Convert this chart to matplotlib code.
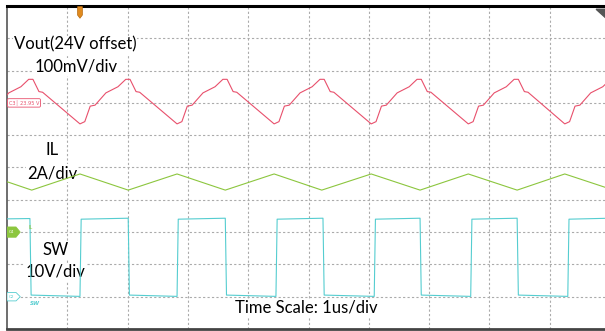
import matplotlib
matplotlib.use("Agg")
import matplotlib.pyplot as plt
from matplotlib.patches import Polygon

plt.rcParams['font.family'] = ['Lato', 'DejaVu Sans']

# 1. Scope settings (1 us/div, 10 x 10 divisions), channel reference levels in div
time_per_div = 1.0
vout_scale = 100.0   # mV/div
il_scale = 2.0       # A/div
sw_scale = 10.0      # V/div
vout_ref = 7.0
il_ref = 3.0
sw_ref = 1.0

# 2. Vout ripple (mV around the 24V offset), vertices
vout_t = [-0.40, -0.32, -0.23, -0.15, 0.03, 0.23, 0.36, 0.43, 0.53, 0.59,
          1.21, 1.29, 1.38, 1.46, 1.64, 1.84, 1.97, 2.04, 2.14, 2.20,
          2.82, 2.90, 2.99, 3.07, 3.25, 3.45, 3.58, 3.65, 3.75, 3.81,
          4.43, 4.51, 4.60, 4.68, 4.86, 5.06, 5.19, 5.26, 5.36, 5.42,
          6.04, 6.12, 6.21, 6.29, 6.47, 6.67, 6.80, 6.87, 6.97, 7.03,
          7.65, 7.73, 7.82, 7.90, 8.08, 8.28, 8.41, 8.48, 8.58, 8.64,
          9.25, 9.33, 9.42, 9.50, 9.68, 9.88, 10.01, 10.08, 10.18, 10.24]
vout_mv = [-65, -58, -10, -7, 31, 50, 73, 73, 35, 33,
           -65, -58, -10, -7, 31, 50, 73, 73, 35, 33,
           -65, -58, -10, -7, 31, 50, 73, 73, 35, 33,
           -65, -58, -10, -7, 31, 50, 73, 73, 35, 33,
           -65, -58, -10, -7, 31, 50, 73, 73, 35, 33,
           -65, -58, -10, -7, 31, 50, 73, 73, 35, 33,
           -65, -58, -10, -7, 31, 50, 73, 73, 35, 33]

# 3. Inductor current (A)
il_t = [0.0, 0.41, 1.21, 2.01, 2.82, 3.62, 4.43, 5.22, 6.04, 6.85, 7.65, 8.46, 9.25, 10.06]
il_a = [3.12, 2.60, 3.60, 2.60, 3.60, 2.60, 3.60, 2.60, 3.60, 2.60, 3.60, 2.60, 3.60, 2.60]

# 4. Switch node (V)
sw_t = [0.0, 0.38, 0.40, 1.21, 1.23, 2.01, 2.03, 2.82, 2.84, 3.62, 3.64, 4.46, 4.48,
        5.24, 5.26, 6.09, 6.11, 6.85, 6.87, 7.69, 7.71, 8.46, 8.48, 9.30, 9.32, 10.0]
sw_v = [24.1, 24.2, 0.5, 0.1, 24.0, 24.3, 0.5, 0.1, 24.0, 24.3, 0.5, 0.1, 24.0,
        24.3, 0.5, 0.1, 24.0, 24.3, 0.5, 0.1, 24.0, 24.3, 0.5, 0.1, 24.0, 24.3]

red = '#e8506c'
green = '#8cc63e'
cyan = '#55cdd0'

# 5. Figure: screen area runs a bit past the right edge of the image
fig = plt.figure(figsize=(6.05, 3.31), dpi=100)
ax = fig.add_axes([7 / 605, 2 / 331, 603 / 605, 323 / 331])
ax.set_xlim(0, 10)
ax.set_ylim(0, 10)
ax.set_xticks([])
ax.set_yticks([])
ax.spines['top'].set_linewidth(2.2)
ax.spines['top'].set_color('black')
ax.spines['left'].set_linewidth(1.2)
ax.spines['left'].set_color('#555555')
ax.spines['bottom'].set_linewidth(2.0)
ax.spines['bottom'].set_color('#444444')
ax.spines['right'].set_visible(False)

for k in range(1, 10):
    ax.axvline(k, color='#ababab', lw=0.8, ls=(0, (2, 2)), zorder=1)
    ax.axhline(k, color='#ababab', lw=0.8, ls=(0, (2, 2)), zorder=1)

# traces
ax.plot([t / time_per_div for t in vout_t], [vout_ref + v / vout_scale for v in vout_mv],
        color=red, lw=0.8, zorder=4)
ax.plot([t / time_per_div for t in il_t], [il_ref + a / il_scale for a in il_a],
        color=green, lw=0.8, zorder=4)
ax.plot([t / time_per_div for t in sw_t], [sw_ref + v / sw_scale for v in sw_v],
        color=cyan, lw=0.8, zorder=4)

# channel markers
ax.text(0.03, vout_ref, "C3\u2502 23.95 V", fontsize=3.6, color=red, va='center', ha='left',
        family='DejaVu Sans',
        bbox=dict(boxstyle='round,pad=0.25', fc='white', ec=red, lw=0.6), zorder=5)
ax.add_patch(Polygon([(0, il_ref + 0.16), (0.15, il_ref + 0.16), (0.22, il_ref),
                      (0.15, il_ref - 0.16), (0, il_ref - 0.16)],
                     closed=True, fc=green, ec=green, lw=0.5, zorder=5))
ax.text(0.08, il_ref, "C4", fontsize=3, color='white', va='center', ha='center',
        family='DejaVu Sans', zorder=6)
ax.text(0.36, il_ref + 0.13, "IL", fontsize=3.5, color=green, va='center', ha='left',
        family='DejaVu Sans', zorder=6)
ax.add_patch(Polygon([(0, sw_ref + 0.13), (0.15, sw_ref + 0.13), (0.22, sw_ref),
                      (0.15, sw_ref - 0.13), (0, sw_ref - 0.13)],
                     closed=True, fc='white', ec=cyan, lw=0.6, zorder=5))
ax.text(0.08, sw_ref, "C2", fontsize=3, color=cyan, va='center', ha='center',
        family='DejaVu Sans', zorder=6)
ax.text(0.38, sw_ref - 0.22, "SW", fontsize=4, color=cyan, va='center', ha='left',
        style='italic', weight='bold', family='DejaVu Sans', zorder=6)

# trigger position (top) and trigger level (top right)
ax.add_patch(Polygon([(1.17, 9.98), (1.25, 9.98), (1.25, 9.72), (1.21, 9.62), (1.17, 9.72)],
                     closed=True, fc='#e08a1e', ec='#b86a10', lw=0.5, zorder=6, clip_on=False))
ax.add_patch(Polygon([(9.77, 9.9), (10.05, 9.9), (9.93, 9.63)],
                     closed=True, fc='#555555', ec='#555555', zorder=6, clip_on=False))
ax.add_patch(Polygon([(9.93, 3.38), (10.05, 3.38), (10.05, 3.22), (9.93, 3.22)],
                     closed=True, fc='#2ab5bb', ec='#2ab5bb', zorder=6, clip_on=False))

# annotations
box = dict(facecolor='white', edgecolor='none', pad=0.5)
ax.text(1.13, 8.64, "Vout(24V offset)", fontsize=12, ha='center', va='baseline', bbox=box, zorder=3)
ax.text(1.14, 7.96, "100mV/div", fontsize=12, ha='center', va='baseline', bbox=box, zorder=3)
ax.text(0.75, 5.39, "IL", fontsize=12, ha='center', va='baseline', bbox=box, zorder=3)
ax.text(0.75, 4.67, "2A/div", fontsize=12, ha='center', va='baseline', bbox=box, zorder=3)
ax.text(0.80, 2.29, "SW", fontsize=12, ha='center', va='baseline', bbox=box, zorder=3)
ax.text(0.80, 1.61, "10V/div", fontsize=12, ha='center', va='baseline', bbox=box, zorder=3)
ax.text(4.96, 0.50, "Time Scale: 1us/div", fontsize=12, ha='center', va='baseline', bbox=box, zorder=3)

fig.savefig('out.png', dpi=100)
